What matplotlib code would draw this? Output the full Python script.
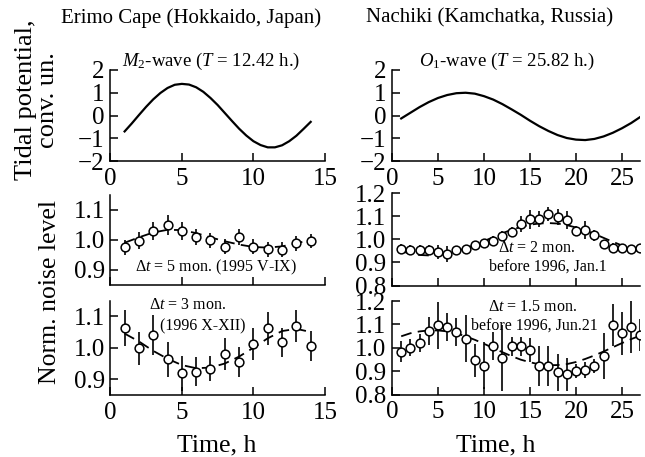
import matplotlib
matplotlib.use("Agg")
import matplotlib.pyplot as plt
import numpy as np

plt.rcParams['font.family'] = ['Liberation Serif', 'DejaVu Serif']
plt.rcParams['mathtext.fontset'] = 'custom'
plt.rcParams['mathtext.rm'] = 'Liberation Serif'
plt.rcParams['mathtext.it'] = 'Liberation Serif:italic'
plt.rcParams['axes.unicode_minus'] = True

# ---- Data ----
# Tidal potential curves
m2_t = [1.0, 1.5, 2.0, 2.5, 3.0, 3.5, 4.0, 4.5, 5.0, 5.5, 6.0, 6.5, 7.0, 7.5,
        8.0, 8.5, 9.0, 9.5, 10.0, 10.5, 11.0, 11.5, 12.0, 12.5, 13.0, 13.5, 14.0]
m2_v = [-0.70, -0.35, 0.02, 0.38, 0.71, 0.99, 1.21, 1.35, 1.39, 1.36, 1.24, 1.04,
        0.77, 0.46, 0.11, -0.24, -0.58, -0.88, -1.13, -1.30, -1.40, -1.40, -1.31,
        -1.13, -0.89, -0.59, -0.28]
o1_t = list(range(1, 28))
o1_v = [-0.13, 0.12, 0.37, 0.59, 0.77, 0.90, 0.98, 1.00, 0.96, 0.85, 0.70, 0.50,
        0.27, 0.03, -0.23, -0.47, -0.68, -0.86, -0.99, -1.06, -1.08, -1.03, -0.92,
        -0.76, -0.56, -0.33, -0.06]

# Erimo, 1995 V-IX
e1_t = list(range(1, 15))
e1_v = [0.975, 0.997, 1.030, 1.048, 1.030, 1.009, 0.998, 0.977, 1.009, 0.977,
        0.968, 0.967, 0.989, 0.996]
e1_err = [0.024, 0.028, 0.030, 0.033, 0.030, 0.026, 0.026, 0.025, 0.025, 0.025,
          0.025, 0.025, 0.025, 0.024]
e1_fit = [0.990, 1.008, 1.024, 1.033, 1.032, 1.022, 1.008, 0.995, 0.984, 0.976,
          0.974, 0.978, 0.988, 1.000]

# Erimo, 1996 X-XII
e2_t = list(range(1, 15))
e2_v = [1.062, 0.998, 1.041, 0.963, 0.919, 0.924, 0.934, 0.979, 0.955, 1.011,
        1.062, 1.017, 1.069, 1.005]
e2_err = [0.058, 0.053, 0.063, 0.055, 0.055, 0.046, 0.040, 0.051, 0.048, 0.051,
          0.052, 0.045, 0.052, 0.047]
e2_fit = [1.045, 1.020, 0.990, 0.965, 0.945, 0.935, 0.937, 0.950, 0.972, 1.000,
          1.030, 1.053, 1.060, 1.050]

# Nachiki, before 1996 Jan.1
n1_t = list(range(1, 28))
n1_v = [0.960, 0.954, 0.954, 0.953, 0.943, 0.937, 0.954, 0.957, 0.973, 0.983,
        0.994, 1.014, 1.033, 1.066, 1.086, 1.087, 1.111, 1.097, 1.083, 1.037,
        1.040, 1.017, 0.979, 0.964, 0.961, 0.960, 0.961]
n1_err = [0.020, 0.020, 0.020, 0.020, 0.030, 0.035, 0.015, 0.012, 0.020, 0.020,
          0.020, 0.020, 0.022, 0.035, 0.040, 0.035, 0.030, 0.035, 0.040, 0.020,
          0.040, 0.025, 0.015, 0.018, 0.015, 0.015, 0.020]
n1_fit = [0.948, 0.938, 0.932, 0.930, 0.932, 0.938, 0.948, 0.961, 0.976, 0.992,
          1.009, 1.026, 1.041, 1.053, 1.063, 1.068, 1.070, 1.068, 1.061, 1.051,
          1.038, 1.023, 1.006, 0.989, 0.973, 0.958, 0.946]

# Nachiki, before 1996 Jun.21
n2_t = list(range(1, 28))
n2_v = [0.982, 1.001, 1.020, 1.072, 1.096, 1.088, 1.067, 1.038, 0.947, 0.924,
        1.009, 0.956, 1.006, 1.006, 0.991, 0.921, 0.921, 0.895, 0.886, 0.901,
        0.904, 0.921, 0.965, 1.096, 1.061, 1.089, 1.054]
n2_err = [0.045, 0.035, 0.040, 0.060, 0.100, 0.060, 0.060, 0.100, 0.070, 0.100,
          0.060, 0.140, 0.040, 0.040, 0.050, 0.085, 0.085, 0.080, 0.070, 0.030,
          0.035, 0.030, 0.100, 0.090, 0.090, 0.110, 0.070]
n2_fit = [1.049, 1.062, 1.070, 1.074, 1.074, 1.070, 1.062, 1.049, 1.034, 1.017,
          0.999, 0.981, 0.964, 0.949, 0.938, 0.929, 0.925, 0.926, 0.930, 0.939,
          0.952, 0.967, 0.984, 1.002, 1.020, 1.037, 1.052]

W, H = 645, 457
fig = plt.figure(figsize=(W / 100, H / 100), dpi=100)


def px_axes(x0, x1, y0, y1):
    return fig.add_axes([x0 / W, 1 - y1 / H, (x1 - x0) / W, (y1 - y0) / H])


TICK_FS = 18
LABEL_FS = 18.5


def style(ax, xlim, xticks, ylim, yticks, ylabels, show_x):
    ax.set_xlim(*xlim)
    ax.set_ylim(*ylim)
    for s in ['top', 'right']:
        ax.spines[s].set_visible(False)
    for s in ['left', 'bottom']:
        ax.spines[s].set_linewidth(1.1)
    ax.set_xticks(xticks)
    ax.set_yticks(yticks)
    ax.set_yticklabels(ylabels)
    if not show_x:
        ax.set_xticklabels([])
    ax.tick_params(direction='in', length=6, width=1.1, labelsize=TICK_FS)
    ax.tick_params(axis='y', pad=4)
    ax.tick_params(axis='x', pad=5)


LX0, LX1 = 110.3, 325.0
RX0, RX1 = 392.0, 640.4

# Top row
ax1 = px_axes(LX0, LX1, 70, 161)
ax1.plot(m2_t, m2_v, color='black', lw=1.6)
style(ax1, (0, 15), [0, 5, 10, 15], (-2, 2), [-2, -1, 0, 1, 2],
      ['\u22122', '\u22121', '0', '1', '2'], True)

ax2 = px_axes(RX0, RX1, 70, 161)
ax2.plot(o1_t, o1_v, color='black', lw=1.6)
style(ax2, (0, 27), [0, 5, 10, 15, 20, 25], (-2, 2), [-2, -1, 0, 1, 2],
      ['\u22122', '\u22121', '0', '1', '2'], True)


def noise(ax, t, v, err, fit):
    ax.plot(t, fit, color='black', lw=1.3, ls=(0, (6, 3.5)), zorder=1)
    ax.errorbar(t, v, yerr=err, fmt='none', ecolor='black', elinewidth=1.2,
                capsize=0, zorder=2)
    ax.plot(t, v, 'o', ms=6.3, mfc='white', mec='black', mew=1.1, zorder=3)


ax3 = px_axes(LX0, LX1, 194.5, 285)
noise(ax3, e1_t, e1_v, e1_err, e1_fit)
style(ax3, (0, 15), [0, 5, 10, 15], (0.85, 1.15), [0.9, 1.0, 1.1],
      ['0.9', '1.0', '1.1'], False)

ax4 = px_axes(RX0, RX1, 193, 285.5)
noise(ax4, n1_t, n1_v, n1_err, n1_fit)
style(ax4, (0, 27), [0, 5, 10, 15, 20, 25], (0.8, 1.2), [0.8, 0.9, 1.0, 1.1, 1.2],
      ['0.8', '0.9', '1.0', '1.1', '1.2'], False)

ax5 = px_axes(LX0, LX1, 300.5, 395)
noise(ax5, e2_t, e2_v, e2_err, e2_fit)
style(ax5, (0, 15), [0, 5, 10, 15], (0.85, 1.15), [0.9, 1.0, 1.1],
      ['0.9', '1.0', '1.1'], True)

ax6 = px_axes(RX0, RX1, 301, 394.5)
noise(ax6, n2_t, n2_v, n2_err, n2_fit)
style(ax6, (0, 27), [0, 5, 10, 15, 20, 25], (0.8, 1.2), [0.8, 0.9, 1.0, 1.1, 1.2],
      ['0.8', '0.9', '1.0', '1.1', '1.2'], True)


def ftext(x, y, s, **kw):
    fig.text(x / W, 1 - y / H, s, **kw)


# Column titles
ftext(191, 18, 'Erimo Cape (Hokkaido, Japan)', ha='center', va='center', fontsize=15)
ftext(490, 18, 'Nachiki (Kamchatka, Russia)', ha='center', va='center', fontsize=15)

# Wave labels
ftext(211, 61, r'$M_2$-wave ($T$ = 12.42 h.)', ha='center', va='center', fontsize=13.5)
ftext(507, 61, r'$O_1$-wave ($T$ = 25.82 h.)', ha='center', va='center', fontsize=13.5)

# Panel annotations
ANN = 11.5
ftext(216, 267, r'$\Delta t$ = 5 mon. (1995 V-IX)', ha='center', va='center', fontsize=ANN)
ftext(188, 305, r'$\Delta t$ = 3 mon.', ha='center', va='center', fontsize=ANN)
ftext(203, 326, '(1996 X-XII)', ha='center', va='center', fontsize=ANN)
ftext(537, 248, r'$\Delta t$ = 2 mon.', ha='center', va='center', fontsize=ANN)
ftext(548, 267, 'before 1996, Jan.1', ha='center', va='center', fontsize=ANN)
ftext(533, 307, r'$\Delta t$ = 1.5 mon.', ha='center', va='center', fontsize=ANN)
ftext(534, 326, 'before 1996, Jun.21', ha='center', va='center', fontsize=ANN)

# Axis labels
ftext(37, 100, 'Tidal potential,\nconv. un.', ha='center', va='center',
      rotation=90, fontsize=19, linespacing=1.05)
ftext(50, 292, 'Norm. noise level', ha='center', va='center', rotation=90,
      fontsize=LABEL_FS)
ftext(217, 445, 'Time, h', ha='center', va='center', fontsize=LABEL_FS)
ftext(496, 445, 'Time, h', ha='center', va='center', fontsize=LABEL_FS)

fig.savefig('out.png', dpi=100)
